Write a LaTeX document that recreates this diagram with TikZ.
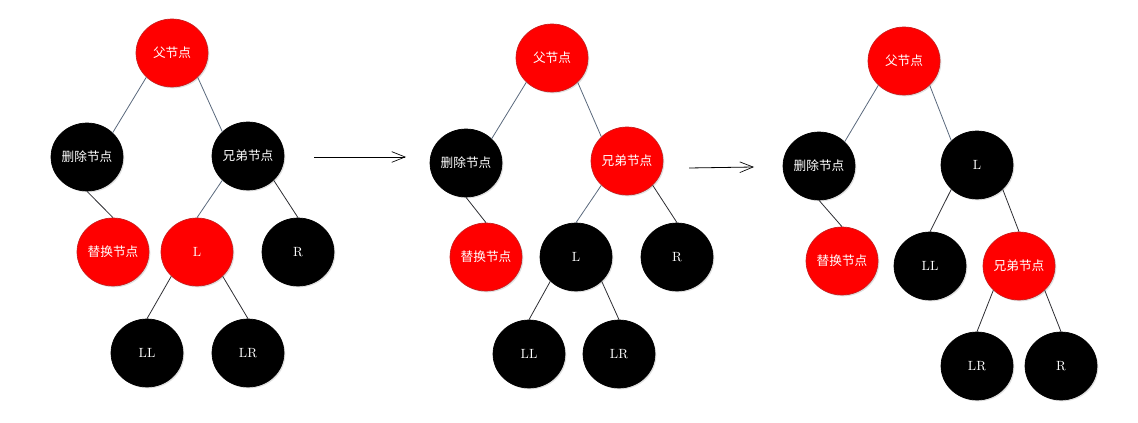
\documentclass[tikz,border=0pt]{standalone}
\usepackage{fontspec}
\newfontfamily\cjk{Noto Sans CJK SC}
\usetikzlibrary{shapes.geometric,arrows.meta,shadows}
\definecolor{edgetop}{RGB}{90,105,125}
\definecolor{edgelow}{RGB}{45,45,50}
\definecolor{redb}{RGB}{200,30,30}
\begin{document}
\begin{tikzpicture}[x=0.75pt,y=-0.75pt,
  nodebase/.style={ellipse,minimum width=54pt,minimum height=51pt,inner sep=0pt,text=white,
    font=\fontsize{9.5}{11}\selectfont\cjk,
    drop shadow={opacity=0.25,shadow xshift=1pt,shadow yshift=-1pt}},
  rn/.style={nodebase,fill=red,draw=redb,line width=0.5pt},
  bn/.style={nodebase,fill=black,draw=black,line width=0.5pt},
  lat/.style={font=\fontsize{10}{12}\selectfont\rmfamily},
  edge/.style={draw=edgetop,line width=0.6pt},
  edgeb/.style={draw=edgelow,line width=0.6pt},
  flow/.style={draw=black,line width=0.6pt,-{Straight Barb[length=10pt,width=8pt,line width=0.5pt]}}]
\useasboundingbox (0,0) rectangle (1138,423);
% tree 1
\node[rn] (p1) at (172,53) {父节点};
\node[bn] (d1) at (87,157) {删除节点};
\node[bn] (s1) at (248,156) {兄弟节点};
\node[rn] (t1) at (113,252) {替换节点};
\node[rn,lat] (l1) at (197,252) {L};
\node[bn,lat] (r1) at (298,252) {R};
\node[bn,lat] (ll1) at (147,353) {LL};
\node[bn,lat] (lr1) at (248,353) {LR};
\draw[edge] (p1.south west) -- (d1.north east);
\draw[edge] (p1.south east) -- (s1.north west);
\draw[edgeb] (d1.south) -- (t1.north);
\draw[edge] (s1.south west) -- (l1.north);
\draw[edgeb] (s1.south east) -- (r1.north);
\draw[edgeb] (l1.south west) -- (ll1.north);
\draw[edgeb] (l1.south east) -- (lr1.north);
% arrow 1
\coordinate (a1s) at (314,157);
\coordinate (a1e) at (406,157);
\draw[flow] (a1s) -- (a1e);
% tree 2
\node[rn] (p2) at (552,58) {父节点};
\node[bn] (d2) at (466,163) {删除节点};
\node[rn] (s2) at (627,161) {兄弟节点};
\node[rn] (t2) at (486,257) {替换节点};
\node[bn,lat] (l2) at (576,257) {L};
\node[bn,lat] (r2) at (677,257) {R};
\node[bn,lat] (ll2) at (529,354) {LL};
\node[bn,lat] (lr2) at (619,354) {LR};
\draw[edge] (p2.south west) -- (d2.north east);
\draw[edge] (p2.south east) -- (s2.north west);
\draw[edgeb] (d2.south) -- (t2.north);
\draw[edge] (s2.south west) -- (l2.north);
\draw[edgeb] (s2.south east) -- (r2.north);
\draw[edgeb] (l2.south west) -- (ll2.north);
\draw[edgeb] (l2.south east) -- (lr2.north);
% arrow 2
\coordinate (a2s) at (689,168);
\coordinate (a2e) at (754,167);
\draw[flow] (a2s) -- (a2e);
% tree 3
\node[rn] (p3) at (904,61) {父节点};
\node[bn] (d3) at (819,166) {删除节点};
\node[bn,lat] (l3) at (977,165) {L};
\node[rn] (t3) at (842,261) {替换节点};
\node[bn,lat] (ll3) at (930,266) {LL};
\node[rn] (s3) at (1019,266) {兄弟节点};
\node[bn,lat] (lr3) at (977,366) {LR};
\node[bn,lat] (r3) at (1061,366) {R};
\draw[edge] (p3.south west) -- (d3.north east);
\draw[edge] (p3.south east) -- (l3.north west);
\draw[edgeb] (d3.south) -- (t3.north);
\draw[edgeb] (l3.south west) -- (ll3.north);
\draw[edgeb] (l3.south east) -- (s3.north);
\draw[edgeb] (s3.south west) -- (lr3.north);
\draw[edgeb] (s3.south east) -- (r3.north);
\end{tikzpicture}
\end{document}
